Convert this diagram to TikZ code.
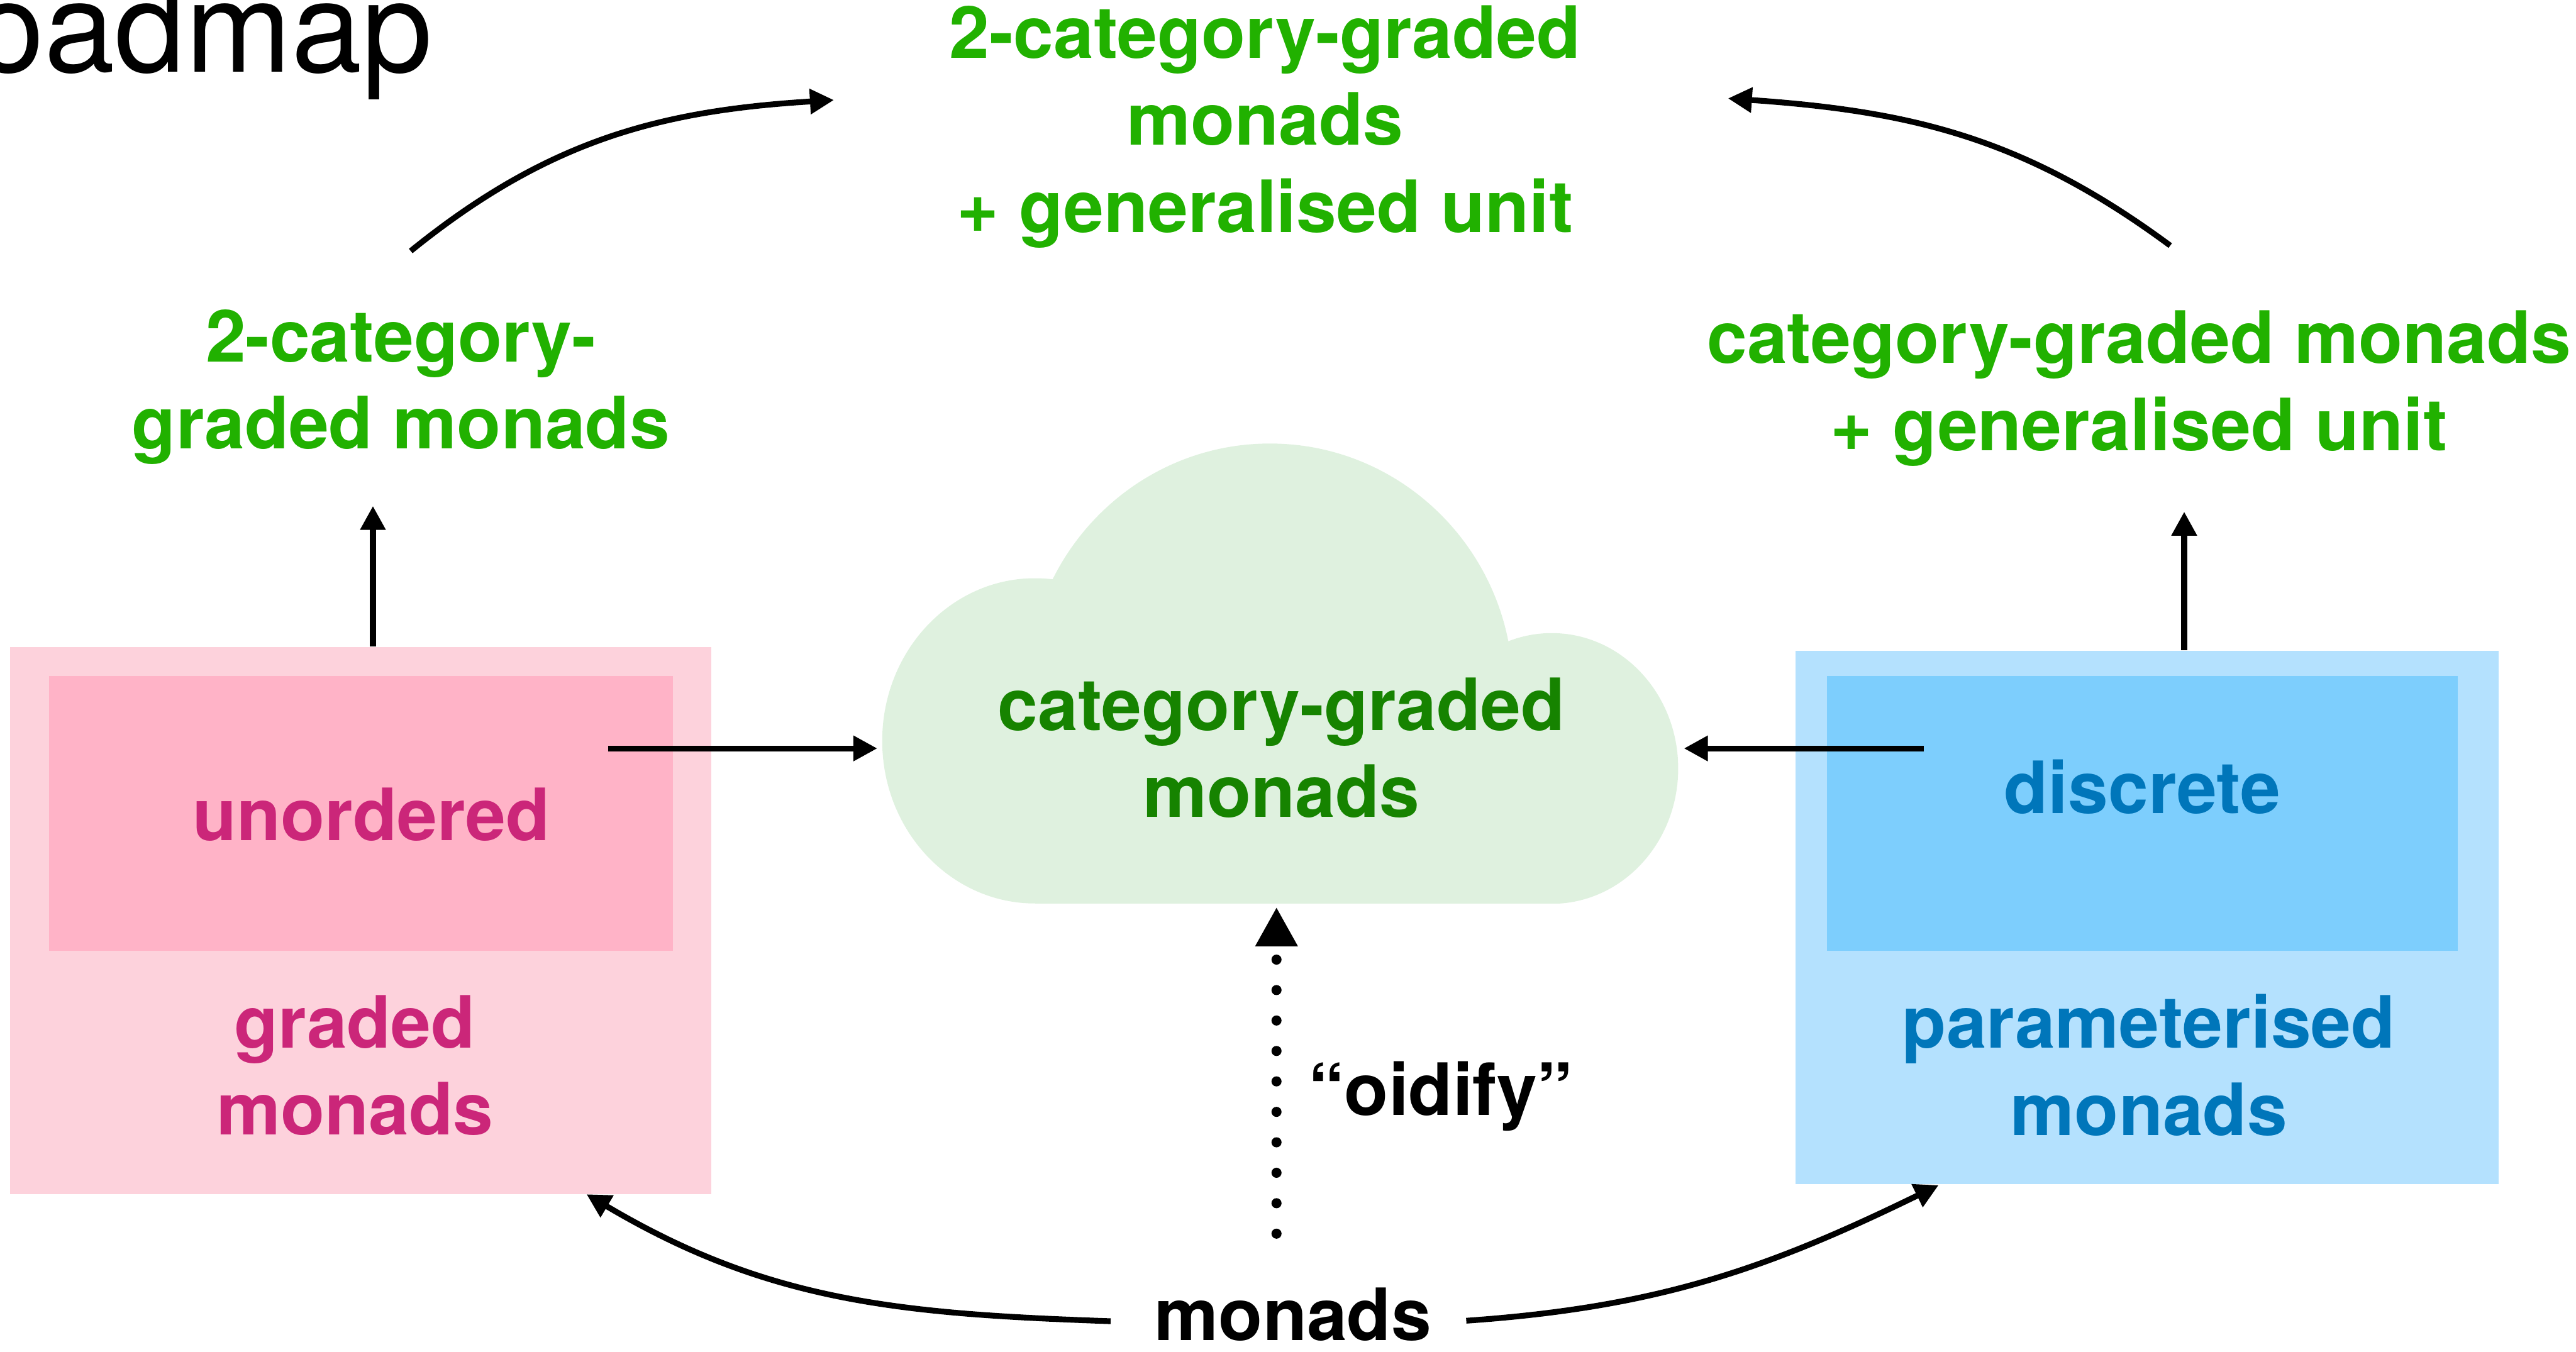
\documentclass[tikz,border=0pt]{standalone}
\usepackage{fontspec}
\setmainfont{TeX Gyre Heros}
\usepackage{tikz}
\usetikzlibrary{arrows.meta}
\definecolor{grass}{RGB}{33,177,0}
\definecolor{forest}{RGB}{22,131,0}
\definecolor{mist}{RGB}{223,241,223}
\definecolor{blush}{RGB}{253,210,220}
\definecolor{rose}{RGB}{255,179,199}
\definecolor{berry}{RGB}{203,38,121}
\definecolor{sky}{RGB}{180,225,254}
\definecolor{azure}{RGB}{125,206,253}
\definecolor{ocean}{RGB}{0,118,186}
\tikzset{>={Triangle[length=8.3pt,width=8.4pt]}}
\newcommand{\labelfont}{\fontsize{25}{30.2}\selectfont\bfseries}
\tikzset{%
    link/.style={->,line width=2pt},
    tag/.style={font=\labelfont,inner sep=0pt},
    stack/.style={tag,align=center},
    panel/.style={rectangle,draw=none,inner sep=0pt}
}

\begin{document}
\begin{tikzpicture}[x=0.02cm,y=0.02cm]
    \useasboundingbox (0,0) rectangle (1568,823);

    % the cloud
    \begin{scope}
        \clip (0,273) rectangle (1568,823);
        \fill[mist] (630,372) ellipse [x radius=93,y radius=99];
        \fill[mist] (773,403) ellipse [x radius=148,y radius=150];
        \fill[mist] (944.5,355.2) ellipse [x radius=77,y radius=82.4];
        \fill[mist] (630,273) rectangle (944.5,372);
    \end{scope}

    \node[panel,fill=blush,minimum width=8.536cm,minimum height=6.66cm] (gradedbox) at (219.6,262.5) {};
    \node[panel,fill=rose,minimum width=7.6cm,minimum height=3.35cm] (unordbox) at (219.7,327.75) {};
    \node[panel,fill=sky,minimum width=8.56cm,minimum height=6.5cm] (parambox) at (1307,264.5) {};
    \node[panel,fill=azure,minimum width=7.68cm,minimum height=3.35cm] (discbox) at (1304,327.75) {};

    \node[anchor=base west,inner sep=0pt,font=\fontsize{44}{50}\selectfont] (roadmap) at (-71.4,779) {Roadmap};
    \node[stack,text=grass] (twocatunit) at (770,745.9) {2-category-graded\\monads\\+ generalised unit};
    \node[stack,text=grass] (twocat) at (244,587.4) {2-category-\\graded monads};
    \node[stack,text=grass] (catunit) at (1302,586.45) {category-graded monads\\+ generalised unit};
    \node[stack,text=forest] (catgraded) at (780,367.8) {category-graded\\monads};
    \node[tag,text=berry,anchor=base] (unord) at (226,311.5) {unordered};
    \node[stack,text=berry] (graded) at (216,174.5) {graded\\monads};
    \node[tag,text=ocean,anchor=base] (disc) at (1304,328) {discrete};
    \node[stack,text=ocean] (param) at (1308,174.5) {parameterised\\monads};
    \node[tag,anchor=base] (oidify) at (877,144) {“oidify”};
    \node[tag,anchor=base] (monads) at (787,7) {monads};

    \coordinate (upL) at (227,515);
    \coordinate (upR) at (1329.5,511.5);
    \coordinate (fromU) at (370,367.4);
    \coordinate (cloudW) at (534,367.4);
    \coordinate (fromD) at (1171,367.4);
    \coordinate (cloudE) at (1025,367.4);
    \coordinate (outL) at (250,670.2);
    \coordinate (topL) at (507.6,762.1);
    \coordinate (outR) at (1321,673.5);
    \coordinate (topR) at (1051.8,763.1);
    \coordinate (baseL) at (676,18.7);
    \coordinate (intoG) at (357,96);
    \coordinate (baseR) at (892.5,19);
    \coordinate (intoP) at (1180,101.5);
    \coordinate (dots) at (777,72);
    \coordinate (cloudS) at (777,270.8);

    \draw[link] (gradedbox.north -| upL) -- (upL);
    \draw[link] (parambox.north -| upR) -- (upR);
    \draw[link] (fromU) -- (cloudW);
    \draw[link] (fromD) -- (cloudE);
    \draw[link] (outL) to[out=39,in=183.5] (topL);
    \draw[link] (outR) to[out=143.5,in=-4] (topR);
    \draw[link] (baseL) to[out=178,in=-30.7] (intoG);
    \draw[link] (baseR) to[out=4,in=206] (intoP);
    \draw[line width=3.5pt,dash pattern=on 0pt off 10.55pt,line cap=round,-{Triangle[length=13.6pt,width=13.8pt]}] (dots) -- (cloudS);

\end{tikzpicture}
\end{document}
